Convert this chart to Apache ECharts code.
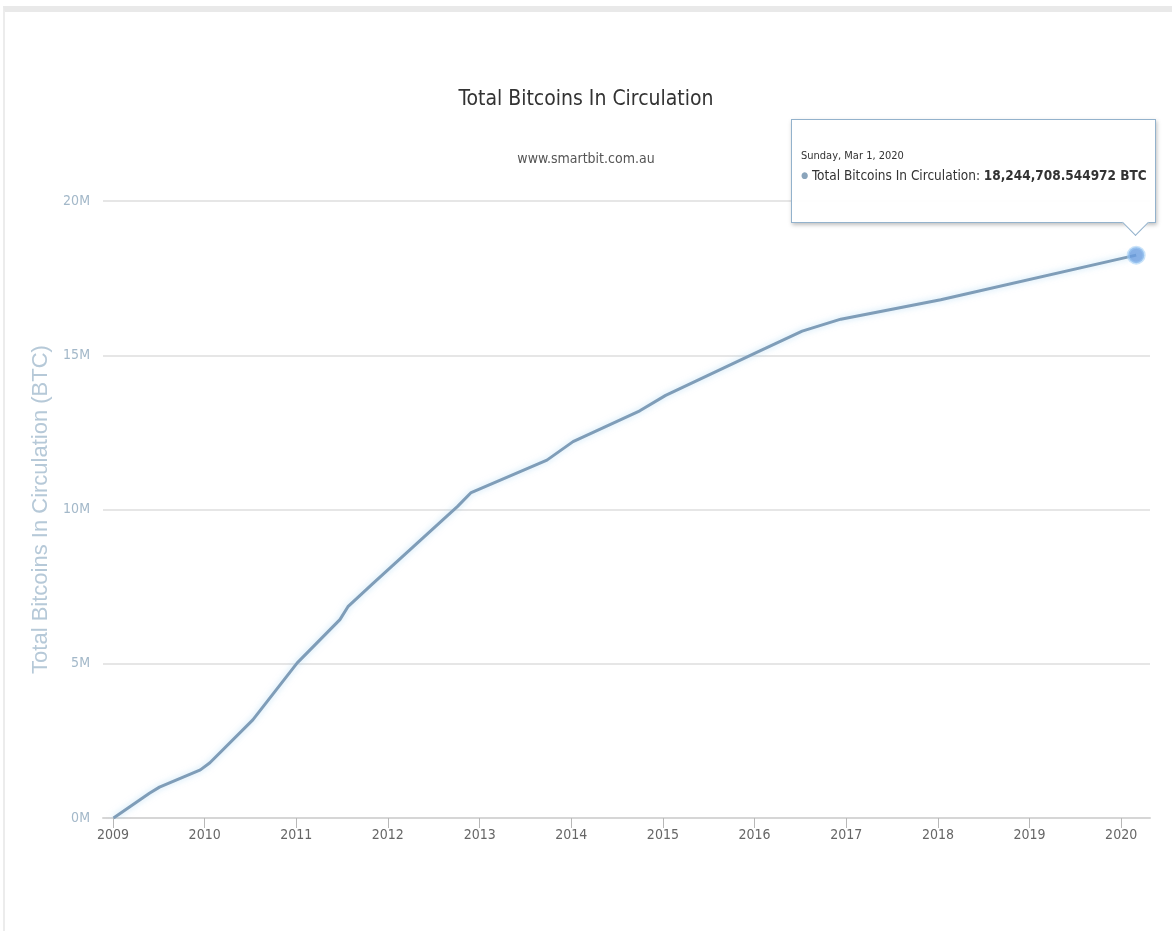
<!DOCTYPE html>
<html>
<head>
<meta charset="utf-8">
<title>Total Bitcoins In Circulation</title>
<script src="https://cdn.jsdelivr.net/npm/echarts@6/dist/echarts.min.js"></script>
<style>
html,body{margin:0;padding:0;background:#fff;}
.frame{position:absolute;left:3px;top:6px;width:1169px;height:925px;border-top:6px solid #e9e9e9;border-left:2px solid #ececec;box-sizing:border-box;}
#chart{position:absolute;left:0;top:0;width:1172px;height:931px;}
</style>
</head>
<body>
<div class="frame"></div>
<div id="chart"></div>
<script>
// values
const dates = [
    '2009-01-03', '2009-05-26', '2009-07-05', '2009-12-15', '2010-01-22',
    '2010-07-12', '2011-01-05', '2011-06-24', '2011-07-26', '2011-11-02',
    '2012-10-05', '2012-11-28', '2013-09-26', '2014-01-08', '2014-10-01',
    '2015-01-12', '2016-01-12', '2016-07-09', '2016-12-10', '2018-01-12',
    '2020-03-01'
];
const totals = [
    0, 800000, 1000000, 1560000, 1790000,
    3180000, 5030000, 6430000, 6850000, 7600000,
    10100000, 10550000, 11600000, 12200000, 13200000,
    13700000, 15100000, 15780000, 16170000, 16800000,
    18244708.544972
];
const seriesName = 'Total Bitcoins In Circulation';

const narrow = "'Liberation Sans Narrow', 'DejaVu Sans Condensed', sans-serif";

let lineData = dates.map((d, i) => [d, totals[i]]);
let last = lineData[lineData.length - 1];

function tipHtml(params) {
    let dateStr = new Date(params.value[0]).toLocaleDateString('en-US', {
        weekday: 'long', month: 'short', day: 'numeric', year: 'numeric', timeZone: 'UTC'
    });
    let valStr = params.value[1].toLocaleString('en-US', {minimumFractionDigits: 6, maximumFractionDigits: 6});
    return '<div style="font-size:11px;line-height:16px;color:#333">' + dateStr + '</div>' +
        '<div style="font-size:13.5px;line-height:22px;color:#333;white-space:nowrap">' +
        '<span style="color:#8aa4bb;font-size:9px;vertical-align:2px">\u25CF</span> ' + seriesName + ': <b>' + valStr + ' BTC</b></div>' +
        '<div style="position:absolute;left:calc(100% - 29px);bottom:-10px;width:18px;height:18px;background:#fff;' +
        'border-right:1px solid #93b2cc;border-bottom:1px solid #93b2cc;transform:rotate(45deg)"></div>';
}

let myChart = echarts.init(document.getElementById('chart'));
let option = {
    animation: false,
    title: [
        {
            text: 'Total Bitcoins In Circulation',
            left: 'center',
            top: 84,
            textStyle: {fontSize: 21, fontWeight: 'normal', color: '#333', fontFamily: narrow}
        },
        {
            text: 'www.smartbit.com.au',
            left: 'center',
            top: 147,
            textStyle: {fontSize: 14, fontWeight: 'normal', color: '#555', fontFamily: narrow}
        }
    ],
    grid: {left: 103, right: 22, top: 201, bottom: 113},
    tooltip: {
        trigger: 'item',
        triggerOn: 'none',
        alwaysShowContent: true,
        transitionDuration: 0,
        backgroundColor: 'rgba(255,255,255,0.95)',
        borderColor: '#93b2cc',
        borderWidth: 1,
        borderRadius: 0,
        padding: [28, 8, 36, 9],
        extraCssText: 'box-shadow:1px 2px 4px rgba(0,0,0,0.25);font-family:' + narrow.replace(/'/g, '"') + ';',
        position: function (pt, params, dom, rect, size) {
            return [pt[0] - size.contentSize[0] + 20, pt[1] - size.contentSize[1] - 32];
        },
        formatter: tipHtml
    },
    xAxis: {
        type: 'time',
        min: '2008-11-22',
        max: '2020-04-25',
        minInterval: 365 * 24 * 3600 * 1000,
        maxInterval: 366 * 24 * 3600 * 1000,
        splitLine: {show: false},
        axisLine: {lineStyle: {color: '#d6d6d6', width: 2}},
        axisTick: {show: true, inside: false, length: 10, lineStyle: {color: '#b8b8b8', width: 1}},
        axisLabel: {
            formatter: v => String(new Date(v).getFullYear()),
            color: '#666',
            fontSize: 14,
            fontFamily: narrow,
            margin: 10,
            showMinLabel: false,
            showMaxLabel: false
        }
    },
    yAxis: {
        type: 'value',
        min: 0,
        max: 20000000,
        interval: 5000000,
        name: 'Total Bitcoins In Circulation (BTC)',
        nameLocation: 'middle',
        nameGap: 44,
        nameTextStyle: {color: '#b6c9d8', fontSize: 22, fontFamily: "'Liberation Sans', sans-serif"},
        axisLine: {show: false},
        axisTick: {show: false},
        axisLabel: {
            formatter: v => (v / 1000000) + 'M',
            color: '#a3b8c9',
            fontSize: 14,
            fontFamily: narrow,
            margin: 13
        },
        splitLine: {lineStyle: {color: '#e6e6e6', width: 2}}
    },
    series: [
        {
            name: seriesName,
            type: 'line',
            data: lineData,
            showSymbol: false,
            silent: true,
            lineStyle: {
                color: '#7f9db8',
                width: 3,
                shadowColor: 'rgba(150,205,240,0.6)',
                shadowBlur: 6
            }
        },
        {
            name: seriesName,
            type: 'scatter',
            data: [last],
            symbolSize: 16,
            itemStyle: {
                color: '#6a9de0',
                borderColor: 'rgba(160,205,245,0.7)',
                borderWidth: 3
            },
            z: 3
        }
    ]
};
myChart.setOption(option);
myChart.dispatchAction({type: 'showTip', seriesIndex: 1, dataIndex: 0});
window.addEventListener("resize", function () {
    myChart.resize();
});
</script>
</body>
</html>
